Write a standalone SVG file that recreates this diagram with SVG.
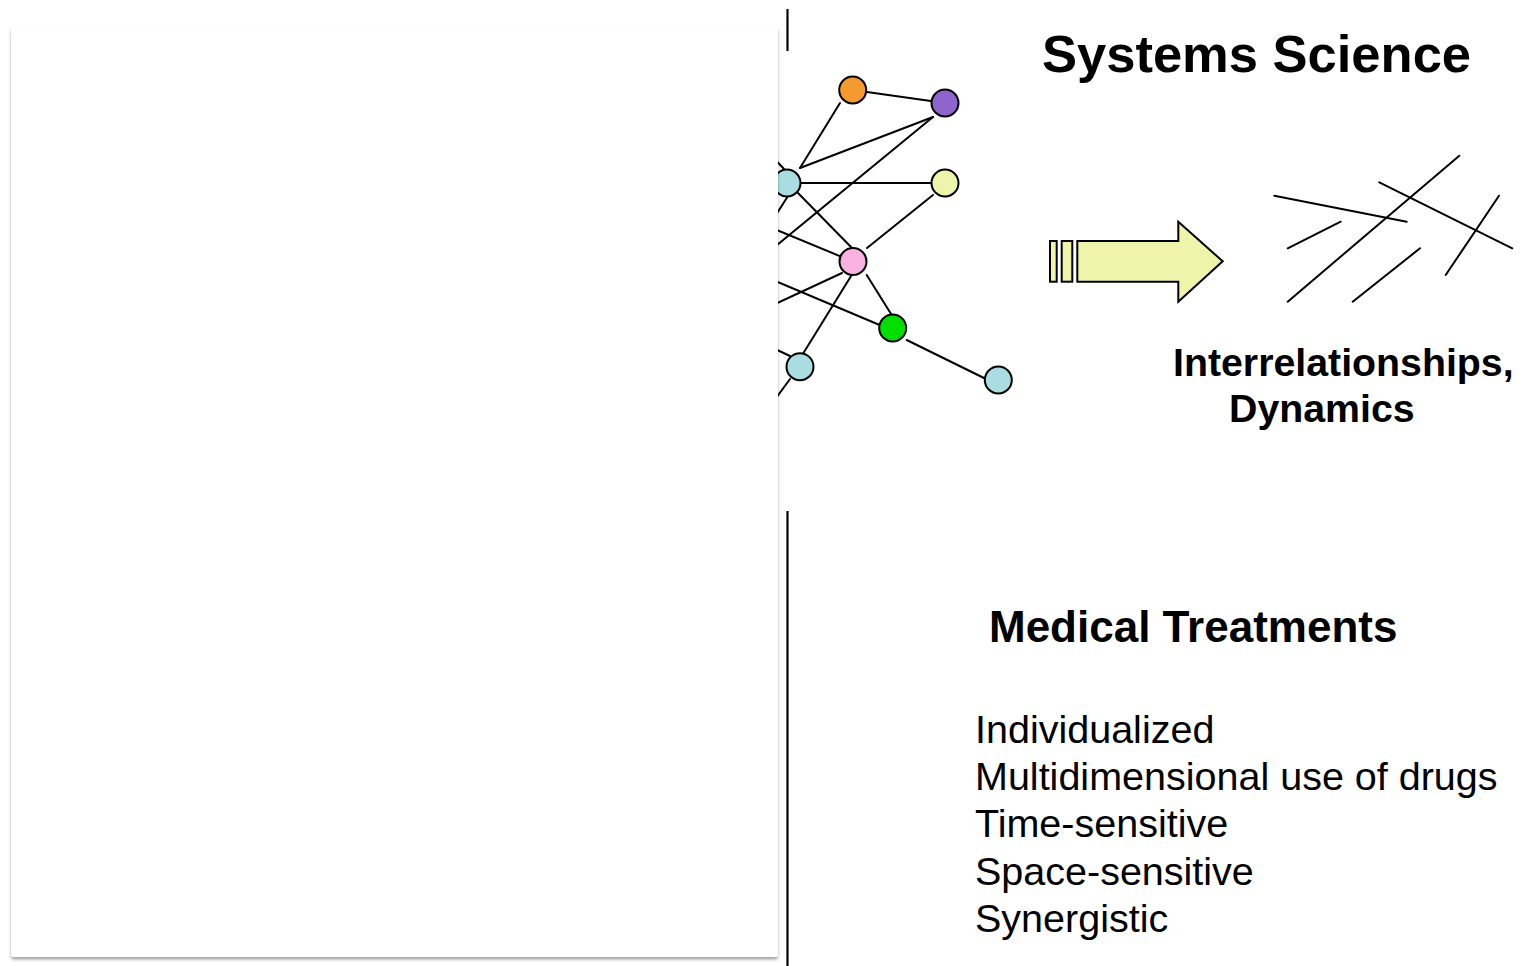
<svg xmlns="http://www.w3.org/2000/svg" width="1527" height="966" viewBox="0 0 1527 966">
<style>
.edge{stroke:#000;stroke-width:2;fill:none;stroke-linecap:round}
.node{stroke:#000;stroke-width:2}
.bold{font-family:"Liberation Sans",Arial,Helvetica,sans-serif;font-weight:bold;fill:#000}
.reg{font-family:"Liberation Sans",Arial,Helvetica,sans-serif;font-size:39.5px;fill:#000}
.arrow{fill:#eff4ab;stroke:#000;stroke-width:2;stroke-linejoin:miter}
.vline{stroke:#000;stroke-width:2.2}
</style>
<defs>
<filter id="shadow" x="-5%" y="-5%" width="110%" height="110%">
<feDropShadow dx="0" dy="2.5" stdDeviation="1.8" flood-color="#000" flood-opacity="0.35"/>
</filter>
</defs>
<rect width="1527" height="966" fill="#fff"/>
<g id="connectors">
<line class="edge" x1="852.7" y1="90" x2="945" y2="103"/>
<line class="edge" x1="840" y1="103" x2="800" y2="168"/>
<line class="edge" x1="933" y1="117" x2="800" y2="168"/>
<line class="edge" x1="933" y1="117" x2="760" y2="259"/>
<line class="edge" x1="787" y1="183" x2="945" y2="183"/>
<line class="edge" x1="798" y1="193" x2="852" y2="248"/>
<line class="edge" x1="755" y1="138" x2="784" y2="169"/>
<line class="edge" x1="788" y1="196" x2="760" y2="240"/>
<line class="edge" x1="760" y1="223" x2="842" y2="257"/>
<line class="edge" x1="933" y1="195" x2="867" y2="248"/>
<line class="edge" x1="760" y1="311" x2="842" y2="273"/>
<line class="edge" x1="760" y1="274.5" x2="882" y2="326"/>
<line class="edge" x1="866.7" y1="275" x2="891.7" y2="315"/>
<line class="edge" x1="851.7" y1="275" x2="803.3" y2="353.3"/>
<line class="edge" x1="906.7" y1="340" x2="986" y2="379"/>
<line class="edge" x1="760" y1="342" x2="790" y2="356"/>
<line class="edge" x1="790" y1="379" x2="760" y2="420"/>
</g>
<g id="node-orange"><circle class="node" cx="852.7" cy="90" r="13.5" fill="#f59a2e"/></g>
<g id="node-purple"><circle class="node" cx="945" cy="103" r="13.5" fill="#8d65cc"/></g>
<g id="node-cyan1"><circle class="node" cx="787" cy="183" r="13.5" fill="#a9dde1"/></g>
<g id="node-yellow"><circle class="node" cx="945" cy="183" r="13.5" fill="#eff4ab"/></g>
<g id="node-pink"><circle class="node" cx="853" cy="261.5" r="13.5" fill="#f9b2e2"/></g>
<g id="node-green"><circle class="node" cx="892.7" cy="328" r="13.5" fill="#00e000"/></g>
<g id="node-cyan2"><circle class="node" cx="800" cy="366.7" r="13.5" fill="#a9dde1"/></g>
<g id="node-cyan3"><circle class="node" cx="998.3" cy="380" r="13.5" fill="#a9dde1"/></g>
<rect id="panel" x="11" y="27" width="767" height="930" rx="3" fill="#fff" filter="url(#shadow)"/>
<line class="vline" x1="787.5" y1="9" x2="787.5" y2="51"/>
<line class="vline" x1="787.5" y1="511" x2="787.5" y2="966"/>
<g id="arrow">
<rect class="arrow" x="1050" y="241" width="6.7" height="40.7"/>
<rect class="arrow" x="1061.7" y="241" width="10.6" height="40.7"/>
<polygon class="arrow" points="1077.3,241 1178.3,241 1178.3,221.7 1222.7,261.3 1178.3,301.7 1178.3,281.7 1077.3,281.7"/>
</g>
<g id="dynamics-lines">
<line class="edge" x1="1274.3" y1="195.7" x2="1406.7" y2="221.7"/>
<line class="edge" x1="1287.7" y1="248.3" x2="1340.7" y2="221.7"/>
<line class="edge" x1="1287.7" y1="301.7" x2="1459.3" y2="155.7"/>
<line class="edge" x1="1379.3" y1="182.3" x2="1512.3" y2="248.3"/>
<line class="edge" x1="1352.7" y1="301.7" x2="1420" y2="248.3"/>
<line class="edge" x1="1445.7" y1="275" x2="1499" y2="195.7"/>
</g>
<text class="bold" x="1042" y="71.5" font-size="52.5">Systems Science</text>
<text class="bold" x="1173" y="376" font-size="39.3">Interrelationships,</text>
<text class="bold" x="1229" y="422" font-size="39.3">Dynamics</text>
<text class="bold" x="989" y="641.5" font-size="44">Medical Treatments</text>
<text class="reg" x="975" y="742.7">Individualized</text>
<text class="reg" x="975" y="790">Multidimensional use of drugs</text>
<text class="reg" x="975" y="837">Time-sensitive</text>
<text class="reg" x="975" y="885">Space-sensitive</text>
<text class="reg" x="975" y="932">Synergistic</text>
</svg>
